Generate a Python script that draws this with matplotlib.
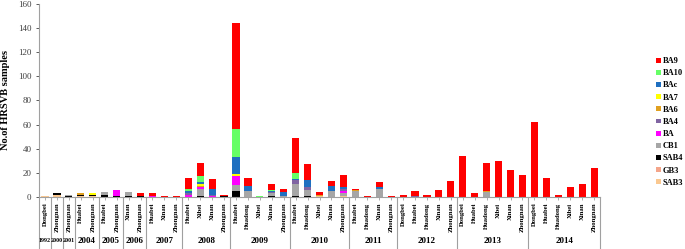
import matplotlib
matplotlib.use("Agg")
import matplotlib.pyplot as plt
import matplotlib.transforms as mtransforms
import numpy as np

plt.rcParams['font.family'] = ['Liberation Serif', 'DejaVu Serif']

# year groups and the regions sampled in each
years = ['1992', '2000', '2001', '2004', '2005', '2006', '2007', '2008',
         '2009', '2010', '2011', '2012', '2013', '2014']
regions = [
    ['Dongbei'],
    ['Zhongnan'],
    ['Zhongnan'],
    ['Huabei', 'Zhongnan'],
    ['Huabei', 'Zhongnan'],
    ['Xinan', 'Zhongnan'],
    ['Huabei', 'Xinan', 'Zhongnan'],
    ['Huabei', 'Xibei', 'Xinan', 'Zhongnan'],
    ['Huabei', 'Huadong', 'Xibei', 'Xinan', 'Zhongnan'],
    ['Huabei', 'Huadong', 'Xibei', 'Xinan', 'Zhongnan'],
    ['Huabei', 'Huadong', 'Xinan', 'Zhongnan'],
    ['Dongbei', 'Huabei', 'Huadong', 'Xinan', 'Zhongnan'],
    ['Dongbei', 'Huabei', 'Huadong', 'Xibei', 'Xinan', 'Zhongnan'],
    ['Dongbei', 'Huabei', 'Huadong', 'Xibei', 'Xinan', 'Zhongnan'],
]

# genotype counts per bar (47 bars, same order as above), bottom of stack first
SAB3 = [1, 2, 0, 1, 1, 0, 0, 0, 0, 0, 0, 0, 0, 0, 0, 0,
        0, 0, 0, 0, 0, 0, 0, 1, 0, 1, 0, 0, 0, 0, 0,
        0, 0, 0, 0, 0, 0, 0, 0, 0, 0, 0, 0, 0, 0, 0, 0]
GB3 = [0] * 47
SAB4 = [0, 1, 1, 1, 1, 2, 1, 1, 1, 0, 0, 0, 0, 1, 0, 1,
        5, 0, 0, 1, 0, 1, 1, 0, 0, 0, 0, 0, 0, 0, 0,
        0, 0, 0, 0, 0, 0, 0, 0, 0, 0, 0, 0, 0, 0, 0, 0]
CB1 = [0, 0, 1, 0, 0, 2, 0, 3, 0, 0, 0, 0, 0, 6, 0, 0,
       5, 5, 0, 2, 1, 10, 5, 0, 5, 2, 5, 0, 7, 0, 0,
       0, 0, 0, 0, 0, 0, 4, 0, 0, 0, 0, 0, 0, 0, 0, 0]
BA = [0, 0, 0, 0, 0, 0, 5, 0, 0, 1, 0, 0, 2, 1, 1, 0,
      7, 0, 0, 0, 0, 0, 0, 0, 0, 2, 0, 0, 0, 0, 0,
      0, 0, 0, 0, 0, 0, 0, 0, 0, 0, 0, 0, 0, 0, 0, 0]
BA4 = [0, 0, 0, 0, 0, 0, 0, 0, 0, 0, 0, 0, 1, 0, 1, 0,
       0, 0, 0, 1, 0, 3, 2, 0, 0, 2, 0, 0, 0, 0, 0,
       1, 0, 0, 0, 0, 0, 0, 0, 0, 0, 0, 0, 0, 0, 0, 0]
BA6 = [0, 0, 0, 1, 0, 0, 0, 0, 0, 0, 0, 0, 0, 1, 0, 0,
       0, 0, 0, 0, 0, 0, 0, 1, 0, 0, 1, 0, 0, 0, 0,
       0, 0, 0, 0, 0, 0, 1, 0, 0, 0, 0, 0, 0, 0, 0, 0]
BA7 = [0, 0, 0, 0, 1, 0, 0, 0, 0, 0, 0, 0, 0, 2, 0, 0,
       2, 0, 0, 0, 0, 0, 0, 0, 0, 0, 0, 0, 0, 0, 0,
       0, 0, 0, 0, 0, 0, 0, 0, 0, 0, 0, 0, 0, 0, 0, 0]
BAc = [0, 0, 0, 0, 0, 0, 0, 0, 0, 0, 0, 0, 2, 1, 5, 0,
       14, 4, 0, 1, 3, 1, 6, 0, 4, 1, 0, 0, 1, 0, 0,
       0, 0, 0, 0, 0, 0, 0, 0, 0, 0, 0, 0, 0, 0, 0, 0]
BA10 = [0, 0, 0, 0, 0, 0, 0, 0, 0, 0, 0, 0, 2, 5, 0, 0,
        23, 0, 1, 1, 0, 5, 0, 0, 0, 0, 0, 0, 0, 0, 0,
        0, 0, 0, 0, 0, 0, 0, 0, 0, 0, 0, 0, 0, 0, 0, 0]
BA9 = [0, 0, 0, 0, 0, 0, 0, 0, 2, 2, 1, 1, 9, 11, 8, 1,
       88, 7, 0, 5, 3, 29, 13, 2, 4, 10, 1, 1, 4, 1, 2,
       4, 2, 6, 13, 34, 3, 23, 30, 22, 18, 62, 16, 2, 8, 11, 24]

series = [('SAB3', SAB3, '#FAC890'), ('GB3', GB3, '#F4A58A'),
          ('SAB4', SAB4, '#000000'), ('CB1', CB1, '#A6A6A6'),
          ('BA', BA, '#FF00FF'), ('BA4', BA4, '#8064A2'),
          ('BA6', BA6, '#E0A020'), ('BA7', BA7, '#FFFF00'),
          ('BAc', BAc, '#1F6FC0'), ('BA10', BA10, '#66FF66'),
          ('BA9', BA9, '#FF0000')]

labels = [r for grp in regions for r in grp]
x = np.arange(len(labels))

fig = plt.figure(figsize=(6.85, 2.49), dpi=100)
ax = fig.add_axes([0.057, 0.209, 0.819, 0.775])

bottom = np.zeros(len(labels))
for name, vals, col in series:
    vals = np.array(vals, dtype=float)
    ax.bar(x, vals, 0.6, bottom=bottom, color=col, label=name, linewidth=0)
    bottom += vals

ax.set_xlim(-0.5, len(labels) - 0.5)
ax.set_ylim(0, 160)
ax.set_yticks(range(0, 161, 20))
ax.tick_params(axis='y', labelsize=6.5, length=2, colors='#404040', width=0.6)
ax.set_ylabel('No.of HRSVB samples', fontsize=7.5, fontweight='bold', labelpad=6)

ax.set_xticks(x)
ax.set_xticklabels(labels, rotation=90, fontsize=4.8, fontweight='bold', va='top')
ax.tick_params(axis='x', length=2, width=0.6, color='#a0a0a0', pad=2)

for s in ['top', 'right']:
    ax.spines[s].set_visible(False)
for s in ['left', 'bottom']:
    ax.spines[s].set_color('#a0a0a0')
    ax.spines[s].set_linewidth(0.8)

# year groups under the region names
trans = mtransforms.blended_transform_factory(ax.transData, ax.transAxes)
start = -0.5
for yr, grp in zip(years, regions):
    end = start + len(grp)
    ax.plot([start, start], [0, -0.27], transform=trans, color='#a0a0a0',
            linewidth=0.8, clip_on=False)
    fs = 6.5 if len(grp) > 1 else 4.3
    ax.text((start + end) / 2, -0.228, yr, transform=trans, ha='center',
            va='center', fontsize=fs, fontweight='bold')
    start = end
ax.plot([start, start], [0, -0.27], transform=trans, color='#a0a0a0',
        linewidth=0.8, clip_on=False)

handles, names = ax.get_legend_handles_labels()
leg = ax.legend(handles[::-1], names[::-1], loc='upper left',
                bbox_to_anchor=(1.09, 0.755), frameon=False,
                prop={'size': 6, 'weight': 'bold'}, handlelength=0.5,
                handleheight=0.5, handletextpad=0.3, labelspacing=0.5,
                borderpad=0.2)

fig.savefig('out.png', dpi=100)
